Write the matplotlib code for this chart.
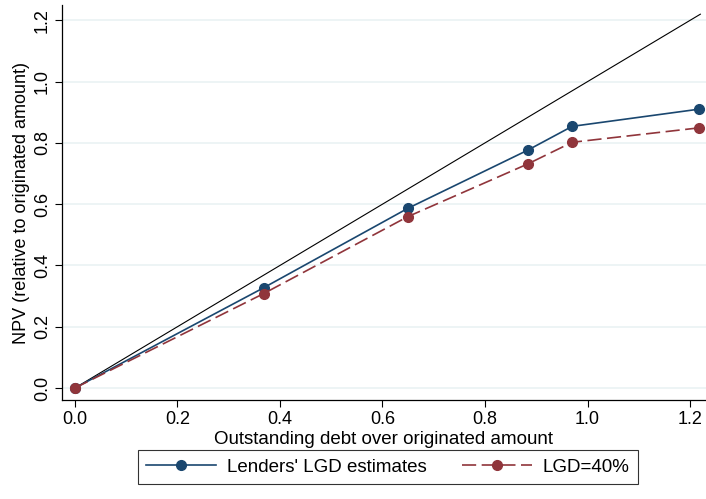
import matplotlib
matplotlib.use("Agg")
import matplotlib.pyplot as plt

x_vals = [0.0, 0.368, 0.649, 0.883, 0.970, 1.217]
lenders_lgd = [0.0, 0.327, 0.586, 0.776, 0.854, 0.910]
lgd_40 = [0.0, 0.308, 0.559, 0.731, 0.802, 0.849]
diag = [0.0, 1.22]
xticks = [0.0, 0.2, 0.4, 0.6, 0.8, 1.0, 1.2]
yticks = [0.0, 0.2, 0.4, 0.6, 0.8, 1.0, 1.2]
series_labels = ["Lenders' LGD estimates", "LGD=40%"]

plt.rcParams['font.family'] = ['Liberation Sans', 'DejaVu Sans']

fig = plt.figure(figsize=(7.06, 4.99), dpi=100)
ax = fig.add_axes([62/706, 99/499, 644/706, 395/499])

navy = '#1a476f'
maroon = '#90353b'

for yt in yticks:
    ax.axhline(yt, color='#eaf2f3', lw=1.2, zorder=0)

ax.plot(diag, diag, color='black', lw=0.8, zorder=2)
ax.plot(x_vals, lenders_lgd, color=navy, lw=1.2, marker='o', ms=7,
        label=series_labels[0], zorder=3)
ax.plot(x_vals, lgd_40, color=maroon, lw=1.2, marker='o', ms=7,
        dashes=(8.5, 3.3), label=series_labels[1], zorder=3)

ax.set_xlim(-0.025, 1.231)
ax.set_ylim(-0.039, 1.25)
ax.set_xticks(xticks)
ax.set_xticklabels([f"{v:.1f}" for v in xticks])
ax.set_yticks(yticks)
ax.set_yticklabels([f"{v:.1f}" for v in yticks], rotation=90, va='center')
ax.tick_params(axis='both', labelsize=13, length=5, width=0.8, direction='out', pad=3)
for s in ['top', 'right']:
    ax.spines[s].set_visible(False)
for s in ['left', 'bottom']:
    ax.spines[s].set_linewidth(0.9)

ax.set_xlabel("Outstanding debt over originated amount", fontsize=13.5, labelpad=2)
ax.set_ylabel("NPV (relative to originated amount)", fontsize=13, labelpad=3)

leg = fig.legend(loc='center', bbox_to_anchor=(388/706, 1 - 467/499), ncol=2,
                 frameon=True, fancybox=False, edgecolor='black', fontsize=13.5,
                 handlelength=3.7, handletextpad=0.6, columnspacing=1.9,
                 borderpad=0.45)
leg.get_frame().set_linewidth(0.8)

fig.savefig("out.png", dpi=100, facecolor='white')
